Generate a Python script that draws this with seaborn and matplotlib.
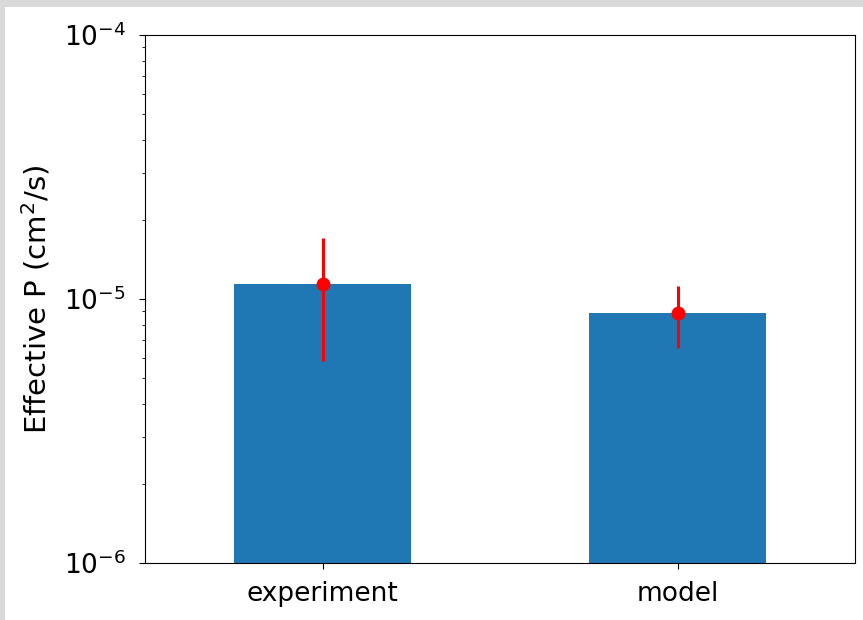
import matplotlib
matplotlib.use("Agg")
import matplotlib.pyplot as plt
from matplotlib.patches import Rectangle
import seaborn as sns
import pandas as pd

categories = ["experiment", "model"]
values = [1.14e-5, 8.88e-6]
errors = [5.57e-6, 2.33e-6]

df = pd.DataFrame({"source": categories, "P": values})

fig = plt.figure(figsize=(8.63, 6.2), dpi=100)
fig.patch.set_facecolor("#d9d9d9")
fig.patches.append(Rectangle((5 / 863, 0), 1, 1 - 7 / 620, transform=fig.transFigure,
                             facecolor="white", edgecolor="none", zorder=-10))
ax = fig.add_axes([145 / 863, 1 - 563 / 620, 710 / 863, 528 / 620])

sns.barplot(data=df, x="source", y="P", color="#1f77b4", saturation=1,
            width=0.5, ax=ax, errorbar=None)
ax.errorbar(range(len(categories)), values, yerr=errors, fmt="o", color="red",
            markersize=9, elinewidth=2.2, capsize=0, zorder=5)

ax.set_yscale("log")
ax.set_ylim(1e-6, 1e-4)
ax.set_xlim(-0.5, 1.5)
ax.set_xlabel("")
ax.set_ylabel("Effective P (cm$^2$/s)", fontsize=21, labelpad=8)
ax.tick_params(axis="both", labelsize=19)
ax.tick_params(axis="y", which="major", length=4, pad=10)
ax.tick_params(axis="x", length=4, pad=9)

fig.savefig("out.png", dpi=100, facecolor=fig.get_facecolor())
